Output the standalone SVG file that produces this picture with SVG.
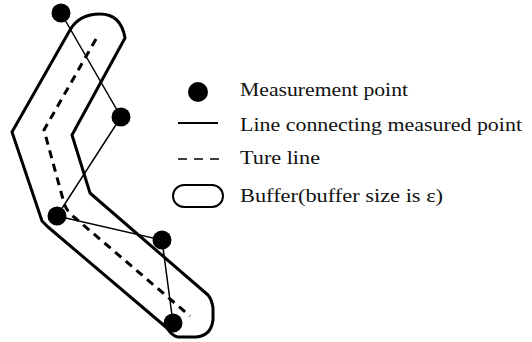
<svg xmlns="http://www.w3.org/2000/svg" width="532" height="342" viewBox="0 0 532 342">
<style>
.buf{fill:none;stroke:#000;stroke-width:3;stroke-linejoin:round}
.true{fill:none;stroke:#000;stroke-width:3;stroke-dasharray:8 6}
.conn{fill:none;stroke:#000;stroke-width:1.5}
.pt{fill:#000}
.lbl{font-family:"Liberation Serif","DejaVu Serif",serif;font-size:18px;fill:#111}
</style>
<rect width="532" height="342" fill="#fff"/>
<g id="buffer">
<path class="buf" d="M70,30 C78,16 90,14 100,14 C112,14 122,20 125,38 L72,135 L90,193 L98,200 L208,295 Q212,300 213,308 L213,320 Q211,336 196,337 L178,337 Q172,336 167,328 L48,227 L42,221 L12,132 L70,30 Z"/>
</g>
<g id="true-line">
<path class="true" d="M96,39 L44,130 L64,203 Q67,212 74,217 L190,316"/>
</g>
<g id="connectors">
<polyline class="conn" points="61,13 121,117 57,216 162,240 173,323"/>
</g>
<g id="points">
<circle id="p1" class="pt" cx="61" cy="13" r="9.5"/>
<circle id="p2" class="pt" cx="121" cy="117" r="9.5"/>
<circle id="p3" class="pt" cx="57" cy="216" r="9.5"/>
<circle id="p4" class="pt" cx="162" cy="240" r="9.5"/>
<circle id="p5" class="pt" cx="173" cy="323" r="9.5"/>
</g>
<g id="legend">
<g id="legend-point">
<circle class="pt" cx="198" cy="92" r="10"/>
<text class="lbl" x="240" y="96" textLength="168" lengthAdjust="spacingAndGlyphs">Measurement point</text>
</g>
<g id="legend-line">
<line x1="178" y1="123" x2="218" y2="123" stroke="#000" stroke-width="2"/>
<text class="lbl" x="240" y="131" textLength="282" lengthAdjust="spacingAndGlyphs">Line connecting measured point</text>
</g>
<g id="legend-true">
<line x1="178" y1="159" x2="220" y2="159" stroke="#000" stroke-width="1.5" stroke-dasharray="9 7"/>
<text class="lbl" x="240" y="164" textLength="80" lengthAdjust="spacingAndGlyphs">Ture line</text>
</g>
<g id="legend-buffer">
<rect x="173" y="185" width="50" height="22" rx="11" fill="none" stroke="#000" stroke-width="2"/>
<text class="lbl" x="240" y="202" textLength="203" lengthAdjust="spacingAndGlyphs">Buffer(buffer size is ε)</text>
</g>
</g>
</svg>
